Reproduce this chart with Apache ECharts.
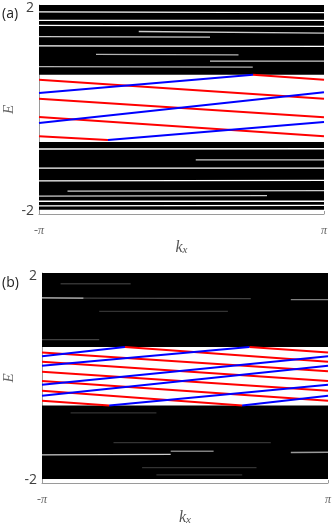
<!DOCTYPE html>
<html>
<head>
<meta charset="utf-8">
<script src="https://cdn.jsdelivr.net/npm/echarts@6/dist/echarts.min.js"></script>
<style>
  html, body { margin: 0; padding: 0; background: #fff; }
  #chart { width: 333px; height: 526px; }
</style>
</head>
<body>
<div id="chart"></div>
<script>
// k_x in units of pi, E in energy units
const kTicks = [-1, 1];
const kTickLabels = { "-1": "-π", "1": "π" };
const eTicks = [-2, 2];

// panel (a): bulk bands [Emin, Emax]
const bandsA = [[0.681, 2.05], [-1.967, -0.636]];
// white gaps inside the bands: [k1, E1, k2, E2, opacity]
const streaksA = [
  [-1, 1.914, 1, 1.90, 1],
  [-1, 1.75, 1, 1.75, 1],
  [-1, 1.65, 1, 1.63, 1],
  [-0.3, 1.53, 1, 1.50, 0.8],
  [-1, 1.43, 0.2, 1.42, 0.8],
  [-1, 1.25, 1, 1.24, 1],
  [-0.6, 1.08, 0.4, 1.07, 0.7],
  [0.2, 0.95, 1, 0.95, 0.8],
  [-1, 0.84, 0.5, 0.83, 0.7],
  [-1, -0.775, 1, -0.77, 1],
  [0.1, -0.99, 1, -0.99, 0.8],
  [-1, -1.15, 1, -1.15, 1],
  [-1, -1.40, 1, -1.39, 1],
  [-0.8, -1.60, 1, -1.59, 0.8],
  [-1, -1.70, 0.6, -1.69, 0.8],
  [-1, -1.80, 1, -1.80, 1],
  [-1, -1.89, 1, -1.88, 1]
];
// edge states: [[k, E], [k, E]]
const redA = [
  [[-1, 0.583], [1, 0.211]],
  [[0.502, 0.681], [1, 0.583]],
  [[-1, 0.211], [1, -0.153]],
  [[-1, -0.147], [1, -0.524]],
  [[-1, -0.524], [-0.516, -0.60]]
];
const blueA = [
  [[-1, 0.323], [0.502, 0.681]],
  [[-1, -0.264], [1, 0.337]],
  [[-0.516, -0.60], [1, -0.245]]
];

// panel (b)
const bandsB = [[0.605, 2.05], [-1.973, -0.535]];
const streaksB = [
  [-1, 1.5625, -0.71, 1.56, 0.8],
  [-0.71, 1.56, 0.46, 1.55, 0.25],
  [0.74, 1.53, 1, 1.53, 0.5],
  [-0.87, 1.84, -0.38, 1.84, 0.2],
  [-0.6, 1.30, 0.3, 1.30, 0.2],
  [-1, 0.75, -0.6, 0.75, 0.25],
  [-1, -1.50, -0.1, -1.49, 0.8],
  [-0.1, -1.43, 0.2, -1.43, 0.5],
  [0.74, -1.455, 1, -1.45, 0.6],
  [-0.5, -1.26, 0.6, -1.26, 0.2],
  [-0.3, -1.75, 0.5, -1.75, 0.2],
  [-0.8, -0.68, -0.2, -0.68, 0.2],
  [-0.2, -1.89, 0.4, -1.89, 0.2]
];
const redB = [
  [[-1, 0.50], [1, 0.13]],
  [[-1, 0.318], [1, -0.06]],
  [[-1, 0.123], [1, -0.25]],
  [[-1, -0.06], [1, -0.443]],
  [[-1, -0.25], [0.4, -0.535]],
  [[-1, -0.443], [-0.53, -0.535]],
  [[0.45, 0.605], [1, 0.50]],
  [[-0.42, 0.605], [1, 0.318]]
];
const blueB = [
  [[-1, 0.426], [-0.42, 0.605]],
  [[-1, 0.24], [0.45, 0.605]],
  [[-1, -0.131], [1, 0.426]],
  [[-1, -0.346], [1, 0.24]],
  [[-0.53, -0.535], [1, -0.131]],
  [[0.4, -0.535], [1, -0.346]]
];

const chart = echarts.init(document.getElementById("chart"), null, { renderer: "canvas" });

const axisGray = "#9a9a9a";

function makeX(gridIndex, nameGap) {
  return {
    type: "value",
    gridIndex: gridIndex,
    min: -1,
    max: 1,
    name: "{k|k}{s|x}",
    nameLocation: "middle",
    nameGap: nameGap,
    nameMoveOverlap: false,
    nameTextStyle: {
      rich: {
        k: { fontFamily: "Liberation Serif", fontStyle: "italic", fontSize: 16, color: "#555", lineHeight: 16, verticalAlign: "top" },
        s: { fontFamily: "Liberation Serif", fontStyle: "italic", fontSize: 11, color: "#555", lineHeight: 10, padding: [7, 0, 0, 0], verticalAlign: "bottom" }
      }
    },
    splitLine: { show: false },
    axisLine: { show: true, onZero: false, lineStyle: { color: axisGray, width: 1 } },
    axisTick: { show: true, inside: true, length: 3, customValues: kTicks, lineStyle: { color: axisGray } },
    axisLabel: {
      customValues: kTicks,
      margin: 11,
      formatter: (v) => kTickLabels[String(v)],
      fontFamily: "Liberation Serif",
      fontStyle: "italic",
      fontSize: 12,
      color: "#666"
    }
  };
}

function makeY(gridIndex, nameGap) {
  return {
    type: "value",
    gridIndex: gridIndex,
    min: -2.05,
    max: 2.05,
    name: "E",
    nameLocation: "middle",
    nameGap: nameGap,
    nameMoveOverlap: false,
    nameRotate: 90,
    nameTextStyle: { fontFamily: "Liberation Serif", fontStyle: "italic", fontSize: 15, color: "#666" },
    splitLine: { show: false },
    axisLine: { show: true, onZero: false, lineStyle: { color: axisGray, width: 1 } },
    axisTick: { show: false },
    axisLabel: {
      customValues: eTicks,
      margin: 5,
      formatter: (v) => String(v),
      fontFamily: "Open Sans",
      fontSize: 14,
      color: "#404040"
    }
  };
}

function panelSeries(idx, bands, streaks, reds, blues) {
  const out = [];
  out.push({
    type: "line",
    xAxisIndex: idx,
    yAxisIndex: idx,
    data: [],
    z: 1,
    silent: true,
    markArea: {
      silent: true,
      itemStyle: { color: "#000", opacity: 1 },
      data: bands.map((b) => [{ yAxis: b[0] }, { yAxis: b[1] }])
    }
  });
  streaks.forEach((s) => {
    out.push({
      type: "line",
      xAxisIndex: idx,
      yAxisIndex: idx,
      data: [[s[0], s[1]], [s[2], s[3]]],
      symbol: "none",
      z: 2,
      silent: true,
      lineStyle: { color: "#fff", width: 1.3, opacity: s[4] }
    });
  });
  const edge = (seg, color) => ({
    type: "line",
    xAxisIndex: idx,
    yAxisIndex: idx,
    data: seg,
    symbol: "none",
    z: 3,
    silent: true,
    lineStyle: { color: color, width: 2 }
  });
  reds.forEach((seg) => out.push(edge(seg, "#ff0000")));
  blues.forEach((seg) => out.push(edge(seg, "#0000ff")));
  return out;
}

const option = {
  animation: false,
  backgroundColor: "#fff",
  grid: [
    { left: 39, top: 5, width: 285, height: 209, containLabel: false, outerBoundsMode: "none" },
    { left: 42, top: 273, width: 286, height: 210, containLabel: false, outerBoundsMode: "none" }
  ],
  xAxis: [makeX(0, 26), makeX(1, 27)],
  yAxis: [makeY(0, 22), makeY(1, 25)],
  graphic: [
    { type: "text", left: 2, top: 7, style: { text: "(a)", fontFamily: "Open Sans", fontSize: 14, fill: "#222" } },
    { type: "text", left: 2, top: 276, style: { text: "(b)", fontFamily: "Open Sans", fontSize: 14, fill: "#222" } }
  ],
  series: [
    ...panelSeries(0, bandsA, streaksA, redA, blueA),
    ...panelSeries(1, bandsB, streaksB, redB, blueB)
  ]
};

chart.setOption(option);
</script>
</body>
</html>
